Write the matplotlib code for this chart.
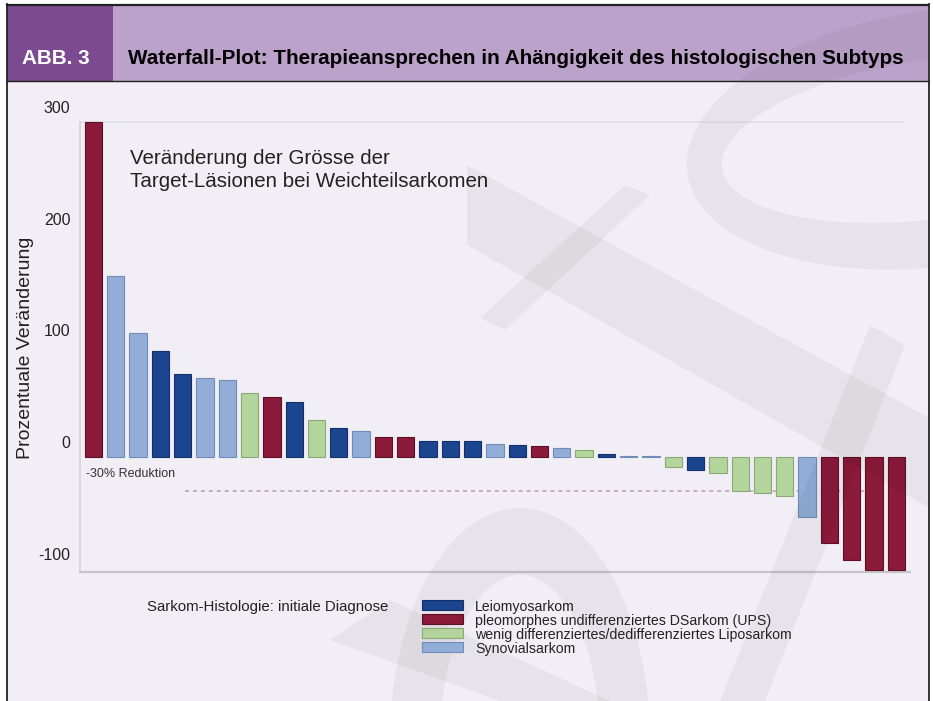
import numpy as np
import matplotlib
matplotlib.use("Agg")
import matplotlib.pyplot as plt
from matplotlib.patches import Rectangle, Polygon, PathPatch
from matplotlib.path import Path
from matplotlib.transforms import ScaledTranslation

# --------------------------------------
# Data
# --------------------------------------
subtypes = [
    "Leiomyosarkom",
    "pleomorphes undifferenziertes DSarkom (UPS)",
    "wenig differenziertes/dedifferenziertes Liposarkom",
    "Synovialsarkom",
]
subtype_colors = ["#1c4590", "#8c1a3a", "#b3d49a", "#92aed8"]
subtype_edges = ["#12306a", "#5e1027", "#8aa877", "#6f8db8"]

# per patient: subtype index (0=LMS, 1=UPS, 2=Lipo, 3=Synovial)
patient_subtype = [1, 3, 3, 0, 0, 3, 3, 2, 1, 0,
                   2, 0, 3, 1, 1, 0, 0, 0, 3, 0,
                   1, 3, 2, 0, 3, 3, 2, 0, 2, 2,
                   2, 2, 3, 1, 1, 1, 1]
pct_change = [300, 162, 111, 95, 74, 71, 69, 57, 54, 49,
              33, 26, 23, 18, 18, 14, 14, 14, 12, 11,
              10, 8, 6, 3, 1, 0.5, -9, -12, -14, -30,
              -32, -35, -54, -77, -92, -101, -101]

y_ticks = [-100, 0, 100, 200, 300]
threshold = -30

W, H = 933, 701


def fx(px):
    return px / W


def fy(py):
    # pixel rows counted from the top
    return 1 - py / H


plt.rcParams["font.family"] = ["Liberation Sans", "DejaVu Sans"]

fig = plt.figure(figsize=(W / 100, H / 100), dpi=100)
fig.patch.set_facecolor("white")

# --------------------------------------
# Frame / header
# --------------------------------------
bg = "#f1eef5"
fig.add_artist(Rectangle((fx(7), 0), fx(921), fy(81), transform=fig.transFigure,
                         facecolor=bg, edgecolor="none", zorder=0))
fig.add_artist(Rectangle((fx(7), fy(81)), fx(921), fy(5) - fy(81), transform=fig.transFigure,
                         facecolor="#bca2cb", edgecolor="none", zorder=0))
fig.add_artist(Rectangle((fx(7), fy(81)), fx(106), fy(5) - fy(81), transform=fig.transFigure,
                         facecolor="#7b4a90", edgecolor="none", zorder=0.2))

# watermark (light grey logo behind the chart)
wm = dict(transform=fig.transFigure, facecolor="black", edgecolor="none", alpha=0.045, zorder=0.1)


def ring(cx, cy, ao, bo, ai, bi, angle=0):
    t = np.linspace(0, 2 * np.pi, 200)
    ca, sa = np.cos(np.radians(angle)), np.sin(np.radians(angle))
    outer = [(cx + ao * np.cos(a) * ca - bo * np.sin(a) * sa,
              cy + ao * np.cos(a) * sa + bo * np.sin(a) * ca) for a in t]
    inner = [(cx + ai * np.cos(a) * ca - bi * np.sin(a) * sa,
              cy + ai * np.cos(a) * sa + bi * np.sin(a) * ca) for a in t[::-1]]
    verts = [(fx(x), fy(y)) for x, y in outer + inner]
    codes = ([Path.MOVETO] + [Path.LINETO] * 199) * 2
    return PathPatch(Path(verts, codes), **wm)


def band(pts):
    return Polygon([(fx(x), fy(y)) for x, y in pts], closed=True, **wm)


clip = Rectangle((fx(7), 0), fx(921), fy(5), transform=fig.transFigure, facecolor="none", edgecolor="none")
fig.add_artist(clip)
for p in [
    ring(940, 138, 255, 128, 220, 80, angle=-8),
    band([(467, 165), (467, 245), (933, 510), (933, 420)]),
    band([(625, 185), (650, 195), (505, 330), (480, 318)]),
    band([(870, 325), (905, 345), (765, 701), (720, 701)]),
    band([(330, 640), (390, 600), (610, 701), (500, 701)]),
    ring(520, 740, 130, 232, 80, 165),
]:
    p.set_clip_path(clip)
    fig.add_artist(p)

# frame lines
fig.add_artist(plt.Line2D([fx(7), fx(928)], [fy(4.5), fy(4.5)], transform=fig.transFigure,
                          color="#222222", lw=1.6, zorder=3))
fig.add_artist(plt.Line2D([fx(7), fx(928)], [fy(81), fy(81)], transform=fig.transFigure,
                          color="#222222", lw=1.0, zorder=3))
fig.add_artist(plt.Line2D([fx(7), fx(7)], [0, fy(4)], transform=fig.transFigure,
                          color="#222222", lw=1.3, zorder=3))
fig.add_artist(plt.Line2D([fx(928.5), fx(928.5)], [0, fy(4)], transform=fig.transFigure,
                          color="#222222", lw=1.3, zorder=3))

abb = fig.text(fx(22), fy(59), "ABB. 3", color="white", fontsize=17, fontweight="bold",
               family=["Liberation Sans Narrow", "Liberation Sans"], va="center", ha="left", zorder=4)
title = fig.text(fx(128), fy(59),
                 "Waterfall-Plot: Therapieansprechen in Ahängigkeit des histologischen Subtyps",
                 color="black", fontsize=17, fontweight="bold",
                 family=["Liberation Sans Narrow", "Liberation Sans"], va="center", ha="left", zorder=4)

# fit header texts to their widths in the reference
renderer = fig.canvas.get_renderer()
for txt, target in [(abb, 68), (title, 775)]:
    w = txt.get_window_extent(renderer).width
    txt.set_fontsize(17 * target / w)

# --------------------------------------
# Waterfall plot
# --------------------------------------
ax = fig.add_axes([fx(80), fy(572), fx(830), fy(110) - fy(572)])
ax.set_facecolor("none")

x = np.arange(len(pct_change))
colors = [subtype_colors[s] for s in patient_subtype]
edges = [subtype_edges[s] for s in patient_subtype]
ax.bar(x, pct_change, width=0.78, color=colors, edgecolor=edges, linewidth=0.8, zorder=3)

px_per_unit = (457 - 122) / 300
x0, dx = 93.5, 22.3
ax.set_xlim(-(x0 - 80) / dx, (910 - x0) / dx)
ax.set_ylim(-(572 - 457) / px_per_unit, (457 - 110) / px_per_unit)

# -30% threshold line and top reference line
ax.hlines(threshold, (185 - x0) / dx, (870 - x0) / dx, colors="#c8a6b8",
          linestyles=(0, (2.2, 2.2)), linewidth=1.3, zorder=2)
ax.hlines(300, ax.get_xlim()[0], (905 - x0) / dx, colors="#e3dfe8", linewidth=1.2, zorder=1)
ax.text((86 - x0) / dx, threshold + 15, "-30% Reduktion", fontsize=9, color="#333333",
        va="center", ha="left")

ax.text((130 - x0) / dx, 257, "Veränderung der Grösse der\nTarget-Läsionen bei Weichteilsarkomen",
        fontsize=14.8, color="#222222", va="center", ha="left", linespacing=1.3)

for side in ["top", "right"]:
    ax.spines[side].set_visible(False)
ax.spines["left"].set_color("#d6d2dc")
ax.spines["left"].set_linewidth(1.2)
ax.spines["left"].set_bounds(-103, 300)
ax.spines["bottom"].set_color("#c6c3cb")
ax.spines["bottom"].set_linewidth(1.6)

ax.set_xticks([])
ax.set_yticks(y_ticks)
ax.set_yticklabels([str(t) for t in y_ticks])
ax.tick_params(axis="y", length=0, pad=7, labelsize=11.5, labelcolor="#222222")
for lbl in ax.get_yticklabels():
    lbl.set_transform(lbl.get_transform() + ScaledTranslation(0, 0.15, fig.dpi_scale_trans))

ax.set_ylabel("Prozentuale Veränderung", fontsize=14, color="#222222")
ax.yaxis.set_label_coords((34 - 80) / 830, (572 - 348) / 462)

# --------------------------------------
# Legend
# --------------------------------------
fig.text(fx(147), fy(607), "Sarkom-Histologie: initiale Diagnose", fontsize=10.8,
         color="#222222", va="center", ha="left")
for i, (name, c, e) in enumerate(zip(subtypes, subtype_colors, subtype_edges)):
    yc = 605 + i * 14
    fig.add_artist(Rectangle((fx(422), fy(yc + 5)), fx(41), fy(yc - 5) - fy(yc + 5),
                             transform=fig.transFigure, facecolor=c, edgecolor=e, lw=0.8, zorder=3))
    fig.text(fx(475), fy(yc + 2), name, fontsize=10.2, color="#222222", va="center", ha="left")

fig.savefig("out.png", dpi=100, facecolor=fig.get_facecolor())
